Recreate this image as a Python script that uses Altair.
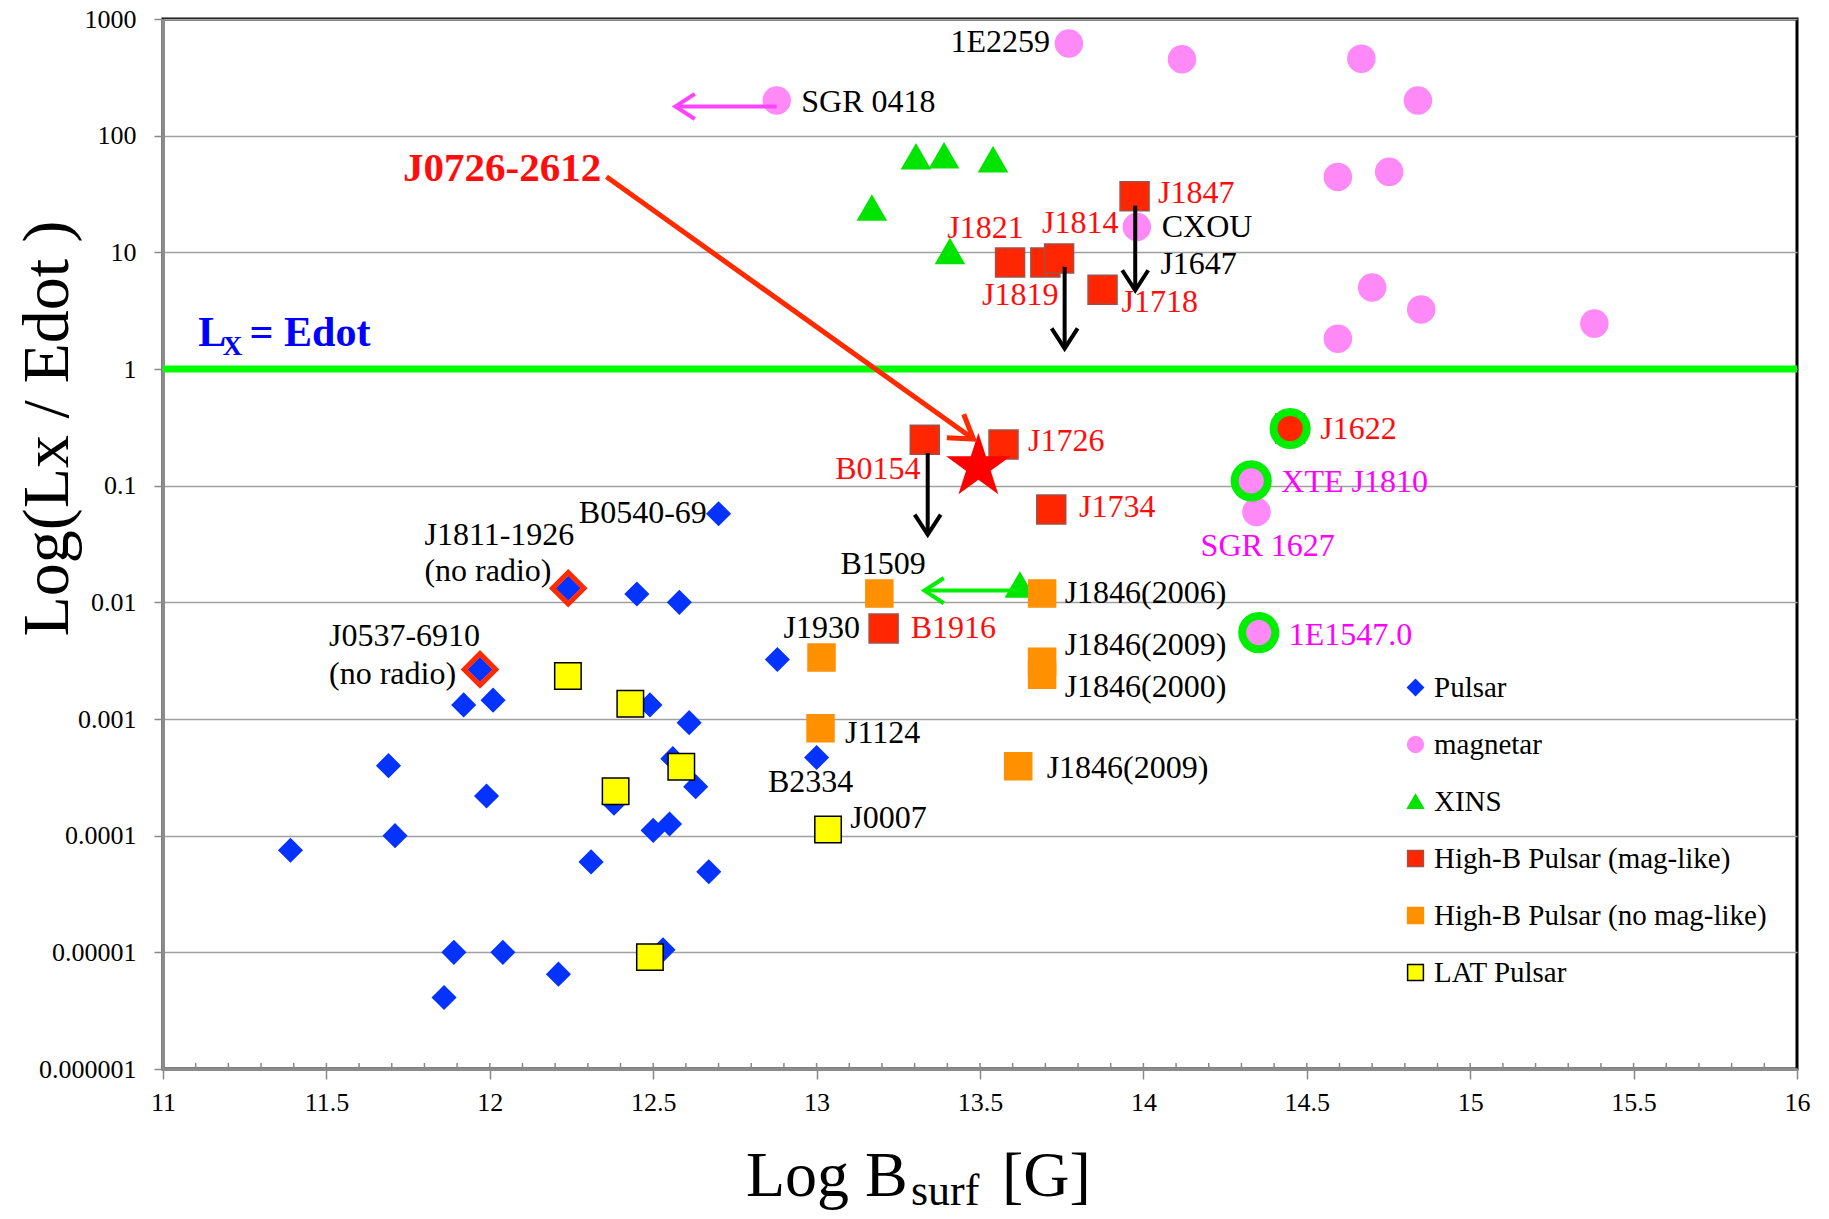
import math
import altair as alt
import pandas as pd

# ------------------------------------------------------------------ data
pulsar_x = [12.70, 12.24, 12.45, 12.58, 11.97, 12.88, 11.92, 12.01, 12.49, 12.61, 12.56, 13.00,
            11.69, 11.99, 12.63, 12.38, 11.39, 11.71, 12.50, 12.55, 12.31, 12.67, 11.89, 12.04,
            12.53, 12.21, 11.86]
pulsar_y = [0.0575, 0.0132, 0.0118, 0.0100, 0.00266, 0.00324, 0.00132, 0.00145, 0.00132, 0.00093,
            0.000457, 0.000468, 0.000398, 0.000219, 0.000263, 0.00019, 7.5e-5, 1.0e-4, 1.11e-4,
            1.26e-4, 5.96e-5, 4.9e-5, 1.0e-5, 1.0e-5, 1.05e-5, 6.5e-6, 4.1e-6]

magnetar_x = [13.772, 14.118, 14.667, 14.84, 12.878, 14.595, 14.752, 13.98, 14.70, 14.85,
              14.595, 15.38, 14.33, 14.346, 14.353]
magnetar_y = [617, 452, 457, 200, 200, 44.3, 49.0, 16.5, 5.0, 3.24, 1.82, 2.45, 0.11, 0.0596, 0.0055]

xins_x = [13.304, 13.39, 13.54, 13.169, 13.408, 13.622]
xins_y = [66.0, 67.6, 62.4, 24.0, 10.2, 0.0141]

hb_mag_names = ["J1847", "J1821", "J1819", "J1814", "J1718", "B0154", "J1726", "J1734", "B1916", "J1622"]
hb_mag_x = [13.973, 13.592, 13.70, 13.742, 13.875, 13.331, 13.572, 13.718, 13.205, 14.449]
hb_mag_y = [30.2, 8.18, 8.18, 8.85, 4.79, 0.248, 0.225, 0.0625, 0.00597, 0.309]

hb_nomag_names = ["B1509", "J1846(2006)", "J1930", "J1846(2009)", "J1846(2000)", "J1124", "J1846(2009)b"]
hb_nomag_x = [13.192, 13.69, 13.015, 13.69, 13.69, 13.012, 13.617]
hb_nomag_y = [0.0119, 0.0119, 0.00337, 0.00309, 0.0024, 0.000832, 0.000394]

lat_x = [12.239, 12.43, 12.586, 12.385, 13.035, 12.49]
lat_y = [0.00234, 0.00135, 0.00039, 0.00024, 0.000113, 9.1e-6]

star_x = [13.495]          # J0726-2612
star_y = [0.145]

ring_x = [14.449, 14.33, 14.353]       # J1622, XTE J1810, 1E1547.0
ring_y = [0.309, 0.11, 0.0055]
noradio_x = [12.24, 11.97]             # J1811-1926, J0537-6910
noradio_y = [0.0132, 0.00266]

arrow_x0 = [12.878, 13.975, 13.759, 13.34, 13.62, 12.357]
arrow_y0 = [178, 25.1, 7.5, 0.19, 0.0126, 44.4]
arrow_x1 = [12.568, 13.975, 13.759, 13.34, 13.33, 13.48]
arrow_y1 = [178, 4.73, 1.5, 0.038, 0.0126, 0.251]
arrow_col = ["#ff44ff", "#000000", "#000000", "#000000", "#00ee00", "#ff2a00"]

lab_left_text = ["SGR 0418", "J1847", "CXOU", "J1647", "J1821", "J1814", "J1819", "J1718", "J1726",
                 "J1734", "J1622", "XTE J1810", "SGR 1627", "1E1547.0", "B1509", "J1846(2006)", "B1916",
                 "J1846(2009)", "J1846(2000)", "J1124", "J1846(2009)", "B2334", "J0007",
                 "J1811-1926", "(no radio)", "J0537-6910", "(no radio)"]
lab_left_x = [12.953, 14.045, 14.056, 14.052, 13.40, 13.69, 13.506, 13.933, 13.647,
              13.803, 14.541, 14.422, 14.175, 14.445, 13.073, 13.759, 13.288,
              13.759, 13.759, 13.087, 13.704, 12.851, 13.103,
              11.80, 11.80, 11.508, 11.508]
lab_left_y = [195, 32.4, 16.6, 7.94, 16.2, 17.8, 4.29, 3.76, 0.242,
              0.065, 0.303, 0.108, 0.0305, 0.00524, 0.0215, 0.0121, 0.00597,
              0.0043, 0.00187, 0.000762, 0.000377, 0.00029, 0.000141,
              0.0377, 0.0186, 0.00513, 0.00245]
lab_left_col = ["black", "red", "black", "black", "red", "red", "red", "red", "red",
                "red", "red", "magenta", "magenta", "magenta", "black", "black", "red",
                "black", "black", "black", "black", "black", "black",
                "black", "black", "black", "black"]

lab_right_text = ["1E2259", "B0540-69", "B0154", "J1930"]
lab_right_x = [13.714, 12.664, 13.318, 13.133]
lab_right_y = [635, 0.0578, 0.138, 0.00604]
lab_right_col = ["black", "black", "red", "black"]

big_label_text = ["J0726-2612"]
big_label_x = [12.341]
big_label_y = [52.2]

lx_text = ["L", "X", "= Edot"]
lx_x = [11.108, 11.183, 11.265]
lx_y = [2.05, 1.54, 2.04]

CATS = ["Pulsar", "magnetar", "XINS", "High-B Pulsar (mag-like)", "High-B Pulsar (no mag-like)", "LAT Pulsar"]

x_tick_values = [11, 11.5, 12, 12.5, 13, 13.5, 14, 14.5, 15, 15.5, 16]
y_tick_values = [1e-6, 1e-5, 1e-4, 1e-3, 1e-2, 1e-1, 1, 10, 100, 1000]

# ------------------------------------------------------------------ styles
FONT = "Liberation Serif"
W, H = 1634, 1050
FILLS = ["#0433ff", "#ff8af7", "#00e400", "#ff2600", "#ff9000", "#ffff00"]
STROKES = ["#0433ff", "#ff8af7", "#00e400", "#a0524a", "#ff9000", "#000000"]
SHAPES = ["diamond", "circle", "triangle-up", "square", "square", "square"]
SIZES = [529, 729, 784, 841, 729, 700]
COLMAP = {"black": "#000000", "red": "#ff0d0d", "magenta": "#ff00ff"}
CHEVRON = "M-1,-0.65L0,0L-1,0.65"
_star_pts = []
for k in range(10):
    r = 1.0 if k % 2 == 0 else 0.382
    a = math.radians(-90 + 36 * k)
    _star_pts.append(f"{r * math.cos(a):.4f},{r * math.sin(a):.4f}")
STAR = "M" + "L".join(_star_pts) + "Z"

XS = alt.Scale(domain=[11, 16], nice=False, zero=False)
YS = alt.Scale(type="log", domain=[1e-6, 1000], nice=False)

X_AXIS = alt.Axis(values=x_tick_values, format="~g", title=None, grid=False, labelFont=FONT,
                  labelFontSize=26, labelColor="black", tickSize=10, tickWidth=1.5,
                  tickColor="#888888", domainColor="#8c8c8c", domainWidth=3, labelPadding=10,
                  labelFlush=False, labelOverlap=False)
Y_AXIS = alt.Axis(values=y_tick_values, format="~f", title="Log(Lx / Edot )", grid=True,
                  gridColor="#a0a0a0", gridWidth=1.5, labelFont=FONT, labelFontSize=26,
                  labelColor="black", tickSize=9, tickWidth=1.5, tickColor="#888888",
                  labelPadding=18, domainColor="#8c8c8c", domainWidth=3, titleFont=FONT,
                  titleFontSize=66, titleFontWeight="normal", titleColor="black", titleX=-116,
                  titleY=409, titleAngle=270, titleAlign="center", titleBaseline="middle",
                  labelOverlap=False)


def X(field="x"):
    return alt.X(f"{field}:Q", scale=XS, axis=X_AXIS)


def Y(field="y"):
    return alt.Y(f"{field}:Q", scale=YS, axis=Y_AXIS)


rows = []
groups = [(pulsar_x, pulsar_y), (magnetar_x, magnetar_y), (xins_x, xins_y),
          (hb_mag_x, hb_mag_y), (hb_nomag_x, hb_nomag_y), (lat_x, lat_y)]
for ci, (xs, ys) in enumerate(groups):
    for xv, yv in zip(xs, ys):
        rows.append({"cat": CATS[ci], "x": xv, "y": yv, "sz": SIZES[ci]})
pts = pd.DataFrame(rows)


def screen_angle(x0, y0, x1, y1):
    dx = (x1 - x0) * W / 5.0
    dy = -(math.log10(y1) - math.log10(y0)) * H / 9.0
    return math.degrees(math.atan2(dy, dx)) % 360


arrows = pd.DataFrame({"x": arrow_x0, "y": arrow_y0, "x2": arrow_x1, "y2": arrow_y1, "col": arrow_col})
arrows["w"] = [4, 4, 4, 4, 4, 5]
heads = pd.DataFrame({"x": arrow_x1, "y": arrow_y1, "col": arrow_col})
heads["ang"] = [screen_angle(a, b, c, d) for a, b, c, d in zip(arrow_x0, arrow_y0, arrow_x1, arrow_y1)]
heads["sz"] = [1500, 1600, 1600, 1600, 1500, 2000]
heads["w"] = [4, 4, 4, 4, 4, 5]

lab_l = pd.DataFrame({"t": lab_left_text, "x": lab_left_x, "y": lab_left_y,
                      "c": [COLMAP[c] for c in lab_left_col]})
lab_r = pd.DataFrame({"t": lab_right_text, "x": lab_right_x, "y": lab_right_y,
                      "c": [COLMAP[c] for c in lab_right_col]})
lab_b = pd.DataFrame({"t": big_label_text, "x": big_label_x, "y": big_label_y})
lx = pd.DataFrame({"t": lx_text, "x": lx_x, "y": lx_y, "fs": [42, 27, 42]})

green_line = alt.Chart(pd.DataFrame({"x": [11], "x2": [16], "y": [1]})).mark_rule(
    color="#00ff00", strokeWidth=7).encode(x=X(), x2="x2:Q", y=Y())

minor_vals = [round(11 + 0.1 * i, 1) for i in range(1, 50)]
minor = alt.Chart(pd.DataFrame({"x": minor_vals})).mark_rule(color="#888888", strokeWidth=1.5).encode(
    x=X(), y=alt.value(H - 6), y2=alt.value(H))

legend = alt.Legend(title=None, orient="none", legendX=1238, legendY=654, labelFont=FONT,
                    labelFontSize=29, labelColor="black", symbolSize=250, symbolStrokeWidth=1.5,
                    rowPadding=27, padding=0, labelOffset=4, labelLimit=700)

points = alt.Chart(pts).mark_point(filled=True, opacity=1, strokeWidth=1.5).encode(
    x=X(), y=Y(),
    shape=alt.Shape("cat:N", scale=alt.Scale(domain=CATS, range=SHAPES), legend=legend),
    fill=alt.Fill("cat:N", scale=alt.Scale(domain=CATS, range=FILLS), legend=legend),
    stroke=alt.Stroke("cat:N", scale=alt.Scale(domain=CATS, range=STROKES), legend=legend),
    size=alt.Size("sz:Q", scale=None),
)

noradio = alt.Chart(pd.DataFrame({"x": noradio_x, "y": noradio_y})).mark_point(
    shape="diamond", filled=False, stroke="#ff2a00", strokeWidth=5, size=1000, opacity=1).encode(
    x=X(), y=Y())

rings = alt.Chart(pd.DataFrame({"x": ring_x, "y": ring_y})).mark_point(
    shape="circle", filled=False, stroke="#00ee00", strokeWidth=8, size=1100, opacity=1).encode(
    x=X(), y=Y())

star = alt.Chart(pd.DataFrame({"x": star_x, "y": star_y})).mark_point(
    shape=STAR, filled=True, color="#ff0000", size=4600, opacity=1).encode(
    x=X(), y=Y())

arrow_lines = alt.Chart(arrows).mark_rule().encode(
    x=X(), x2="x2:Q", y=Y(), y2="y2:Q",
    color=alt.Color("col:N", scale=None),
    strokeWidth=alt.StrokeWidth("w:Q", scale=None))

arrow_heads = alt.Chart(heads).mark_point(shape=CHEVRON, filled=False, opacity=1).encode(
    x=X(), y=Y(),
    angle=alt.Angle("ang:Q", scale=None),
    color=alt.Color("col:N", scale=None),
    size=alt.Size("sz:Q", scale=None),
    strokeWidth=alt.StrokeWidth("w:Q", scale=None))

labels_left = alt.Chart(lab_l).mark_text(align="left", baseline="middle", font=FONT, fontSize=32).encode(
    x=X(), y=Y(), text="t:N", color=alt.Color("c:N", scale=None))
labels_right = alt.Chart(lab_r).mark_text(align="right", baseline="middle", font=FONT, fontSize=32).encode(
    x=X(), y=Y(), text="t:N", color=alt.Color("c:N", scale=None))
label_big = alt.Chart(lab_b).mark_text(align="right", baseline="middle", font=FONT, fontSize=41,
                                       fontWeight="bold", color="#ff0d0d").encode(
    x=X(), y=Y(), text="t:N")
lx_label = alt.Chart(lx).mark_text(align="left", baseline="middle", font=FONT, fontWeight="bold",
                                   color="#0000ff").encode(
    x=X(), y=Y(), text="t:N", size=alt.Size("fs:Q", scale=None))

title_dummy = pd.DataFrame({"d": [0]})
xt1 = alt.Chart(title_dummy).mark_text(text="Log B", align="left", baseline="alphabetic", font=FONT,
                                       fontSize=64, color="black").encode(
    x=alt.value(583), y=alt.value(1177))
xt2 = alt.Chart(title_dummy).mark_text(text="surf", align="left", baseline="alphabetic", font=FONT,
                                       fontSize=44, color="black").encode(
    x=alt.value(748), y=alt.value(1186))
xt3 = alt.Chart(title_dummy).mark_text(text="[G]", align="left", baseline="alphabetic", font=FONT,
                                       fontSize=64, color="black").encode(
    x=alt.value(839), y=alt.value(1177))

chart = alt.layer(
    green_line, minor, points, noradio, rings, star,
    arrow_lines, arrow_heads,
    labels_left, labels_right, label_big, lx_label, xt1, xt2, xt3
).properties(
    width=W, height=H,
    padding={"left": 163, "top": 19, "right": 32, "bottom": 150},
    autosize=alt.AutoSizeParams(type="none"),
    background="white",
).configure_view(stroke="black", strokeWidth=3)

chart.save("out.html", embed_options={"renderer": "svg", "actions": False})
